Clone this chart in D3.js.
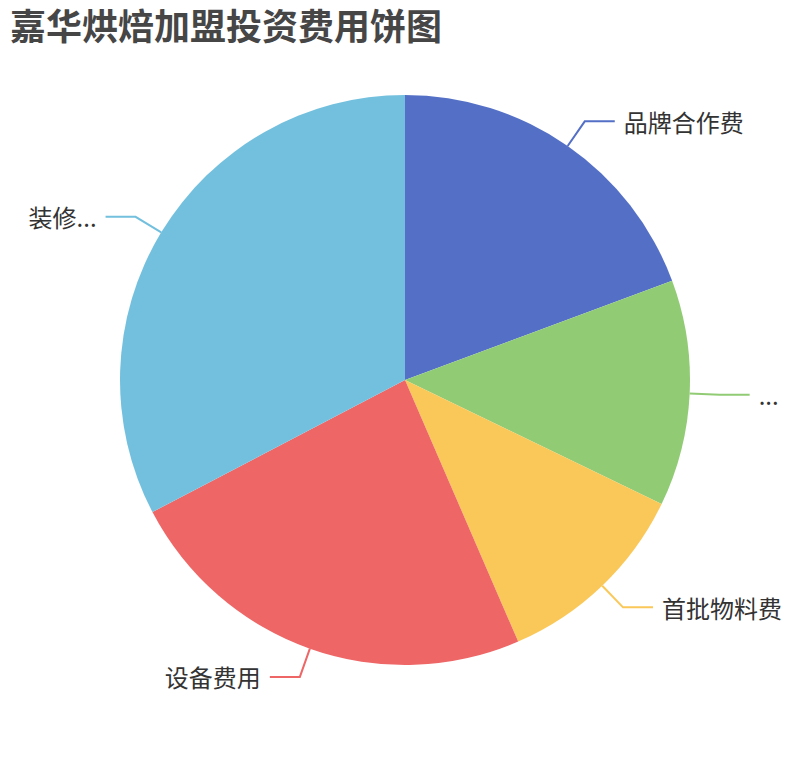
<!DOCTYPE html>
<html>
<head>
<meta charset="utf-8">
<script src="https://cdn.jsdelivr.net/npm/d3@7"></script>
<style>
  html, body { margin: 0; padding: 0; background: #fff; }
  svg { display: block; }
</style>
</head>
<body>
<svg id="chart" width="810" height="760"></svg>
<script>
// ---- data ----
const titleText = "嘉华烘焙加盟投资费用饼图";
const categories = ["品牌合作费", "...", "首批物料费", "设备费用", "装修..."];
const values = [5.8, 3.85, 3.4, 7.15, 9.8];
const colors = ["#5470c6", "#91cc75", "#fac858", "#ee6666", "#73c0de"];

// ---- layout ----
const W = 810, H = 760;
const cx = 405, cy = 380, R = 285;
const len1 = 30, len2 = 30, gap = 9;
const fontFamily = '"Noto Sans CJK SC", "Noto Sans", sans-serif';

const svg = d3.select("#chart");

svg.append("text")
  .attr("x", 10).attr("y", 40)
  .attr("font-family", fontFamily)
  .attr("font-size", 36)
  .attr("font-weight", "bold")
  .attr("fill", "#464646")
  .text(titleText);

const data = categories.map((c, i) => ({ name: c, value: values[i], color: colors[i] }));
const pie = d3.pie().sort(null).value(d => d.value);
const arcs = pie(data);
const arc = d3.arc().innerRadius(0).outerRadius(R);

const g = svg.append("g").attr("transform", `translate(${cx},${cy})`);

g.selectAll("path.slice")
  .data(arcs)
  .join("path")
  .attr("class", "slice")
  .attr("d", arc)
  .attr("fill", d => d.data.color);

function pt(r, a) { return [r * Math.sin(a), -r * Math.cos(a)]; }

arcs.forEach(d => {
  const mid = (d.startAngle + d.endAngle) / 2;
  const p0 = pt(R, mid);
  const p1 = pt(R + len1, mid);
  const right = Math.sin(mid) >= 0;
  const p2 = [p1[0] + (right ? len2 : -len2), p1[1]];
  g.append("polyline")
    .attr("points", [p0, p1, p2].map(p => p.join(",")).join(" "))
    .attr("fill", "none")
    .attr("stroke", d.data.color)
    .attr("stroke-width", 2);
  g.append("text")
    .attr("x", p2[0] + (right ? gap : -gap))
    .attr("y", p2[1])
    .attr("text-anchor", right ? "start" : "end")
    .attr("dominant-baseline", "central")
    .attr("font-family", fontFamily)
    .attr("font-size", 24)
    .attr("fill", "#333")
    .text(d.data.name);
});
</script>
</body>
</html>
